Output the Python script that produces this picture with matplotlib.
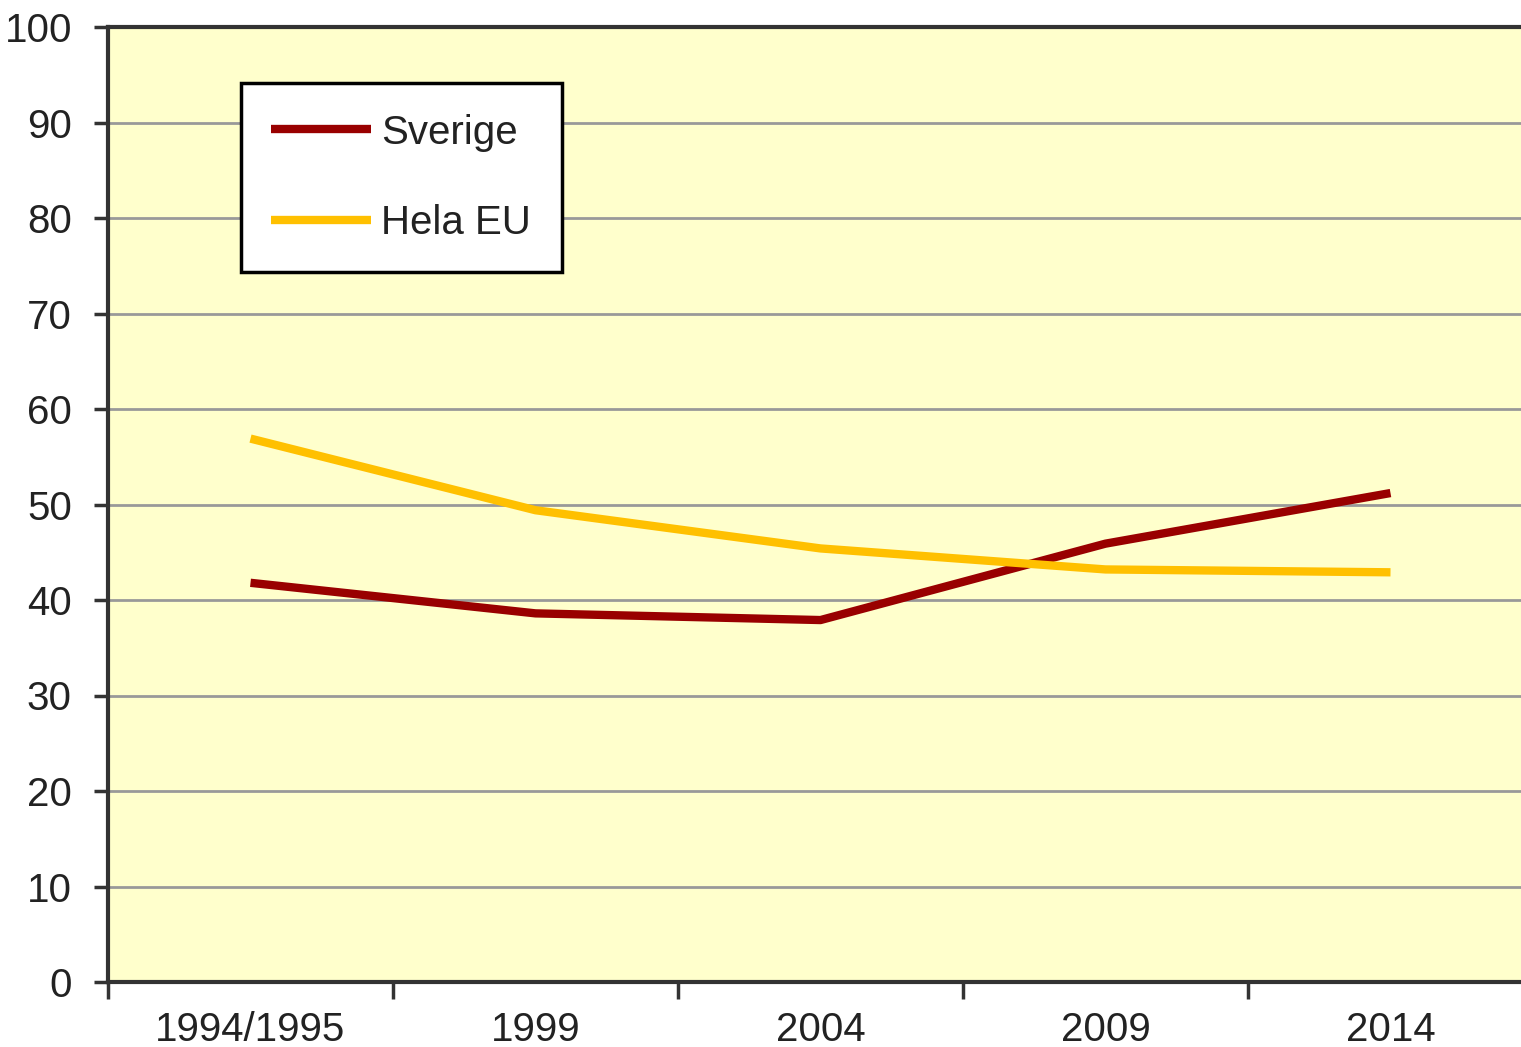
import matplotlib.pyplot as plt

years = ["1994/1995", "1999", "2004", "2009", "2014"]
sverige = [41.8, 38.6, 37.9, 45.9, 51.2]
hela_eu = [56.9, 49.4, 45.4, 43.2, 42.9]
yticks = [0, 10, 20, 30, 40, 50, 60, 70, 80, 90, 100]

plt.rcParams['font.family'] = ['Liberation Sans', 'DejaVu Sans']

fig = plt.figure(figsize=(15.21, 10.47), dpi=100)
ax = fig.add_axes([108 / 1521, 65 / 1047, 1425 / 1521, 955 / 1047])
ax.set_facecolor("#FFFFCC")

x = range(len(years))
ax.plot(x, sverige, color="#990000", linewidth=6, label="Sverige", solid_capstyle="butt")
ax.plot(x, hela_eu, color="#FFC000", linewidth=6, label="Hela EU", solid_capstyle="butt")

ax.set_xlim(-0.5, len(years) - 0.5)
ax.set_ylim(0, 100)
ax.set_yticks(yticks)
ax.set_yticklabels([str(v) for v in yticks], fontsize=29, color="#222222")
ax.yaxis.grid(True, color="#999999", linewidth=2)
ax.set_axisbelow(True)

# labels in the middle of each category, tick marks between them
ax.set_xticks(list(x))
ax.set_xticklabels(years, fontsize=29, color="#222222")
ax.set_xticks([i - 0.5 for i in range(len(years) + 1)], minor=True)
ax.tick_params(axis="x", which="major", length=0, pad=21)
ax.tick_params(axis="x", which="minor", length=12, width=2.5, color="#333333", direction="out")
ax.tick_params(axis="y", length=10, width=2.5, color="#333333", pad=16)

for side in ["top", "bottom", "left"]:
    ax.spines[side].set_linewidth(3)
    ax.spines[side].set_color("#333333")
ax.spines["right"].set_visible(False)

leg = ax.legend(loc="upper left", bbox_to_anchor=(0.093, 0.941), fontsize=29,
                frameon=True, fancybox=False, framealpha=1, edgecolor="black",
                handlelength=2.5, handletextpad=0.25, labelspacing=1.3,
                borderpad=0.75, borderaxespad=0)
leg.get_frame().set_linewidth(2.5)
for t in leg.get_texts():
    t.set_color("#222222")

fig.savefig("out.png", dpi=100)
